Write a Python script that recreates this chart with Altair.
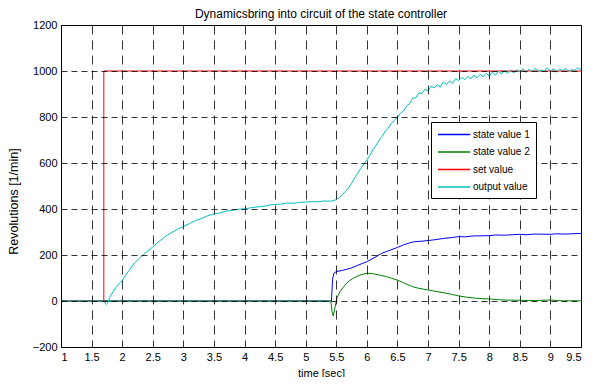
import altair as alt
import pandas as pd

# ---- data ----
set_t = [1.0, 1.7, 1.7, 9.5]
set_v = [0, 0, 1000, 1000]

out_t = [1.0, 1.70, 1.72, 1.74, 1.76, 1.80, 1.85, 1.90, 1.95, 2.00, 2.10, 2.20, 2.30, 2.40,
         2.50, 2.60, 2.70, 2.80, 2.90, 3.00, 3.10, 3.20, 3.30, 3.40, 3.50, 3.60, 3.70, 3.80,
         3.90, 4.00, 4.10, 4.20, 4.30, 4.40, 4.50, 4.60, 4.70, 4.80, 4.90, 5.00, 5.10, 5.20,
         5.30, 5.40, 5.45, 5.50, 5.55, 5.60, 5.65, 5.70, 5.75, 5.80, 5.85, 5.90, 5.95, 6.00,
         6.05, 6.10, 6.15, 6.20, 6.25, 6.30, 6.35, 6.40, 6.45, 6.50, 6.55, 6.60, 6.65, 6.70,
         6.75, 6.80, 6.85, 6.90, 6.95, 7.00, 7.05, 7.10, 7.15, 7.20, 7.25, 7.30, 7.35, 7.40,
         7.45, 7.50, 7.55, 7.60, 7.65, 7.70, 7.75, 7.80, 7.85, 7.90, 7.95, 8.00, 8.05, 8.10,
         8.15, 8.20, 8.25, 8.30, 8.35, 8.40, 8.45, 8.50, 8.55, 8.60, 8.65, 8.70, 8.75, 8.80,
         8.85, 8.90, 8.95, 9.00, 9.05, 9.10, 9.15, 9.20, 9.25, 9.30, 9.35, 9.40, 9.45, 9.50]
out_v = [0, 0, -8, -15, -10, 18, 40, 60, 76, 90, 128, 165, 190, 214,
         235, 258, 280, 296, 311, 324, 336, 350, 359, 371, 378, 383, 391, 394,
         399, 401, 405, 409, 411, 417, 420, 421, 426, 425, 429, 430, 432, 431,
         435, 434, 436, 441, 450, 463, 477, 491, 512, 535, 556, 575, 596, 614,
         634, 658, 676, 700, 716, 738, 752, 772, 785, 800, 816, 826, 848, 858,
         882, 884, 905, 902, 921, 914, 934, 926, 940, 930, 952, 941, 956, 946,
         966, 958, 972, 962, 976, 966, 982, 970, 986, 975, 990, 978, 995, 982,
         998, 987, 1002, 990, 1005, 991, 1006, 996, 1010, 994, 1008, 997, 1012, 996,
         1004, 1000, 1014, 999, 1010, 995, 1008, 1001, 1012, 998, 1006, 1003, 1015, 1004]

s1_t = [1.0, 5.42, 5.44, 5.46, 5.5, 5.6, 5.73, 5.85, 6.0, 6.1, 6.24, 6.35, 6.5, 6.6, 6.7,
        6.78, 6.9, 7.0, 7.1, 7.25, 7.4, 7.5, 7.6, 7.75, 8.0, 8.1, 8.25, 8.5, 8.6, 8.75,
        9.0, 9.1, 9.25, 9.5]
s1_v = [0, 0, 95, 120, 128, 133, 142, 155, 171, 185, 207, 218, 233, 244, 253,
        258, 260, 263, 266, 272, 276, 280, 279, 283, 284, 287, 286, 290, 288, 291,
        290, 292, 291, 294]

s2_t = [1.0, 5.41, 5.43, 5.45, 5.47, 5.51, 5.56, 5.62, 5.67, 5.72, 5.78, 5.84, 5.89, 5.95,
        6.0, 6.07, 6.13, 6.22, 6.32, 6.4, 6.5, 6.6, 6.75, 6.85, 7.0, 7.1, 7.25, 7.4, 7.5,
        7.65, 7.79, 7.9, 8.0, 8.15, 8.27, 8.5, 8.7, 9.0, 9.2, 9.5]
s2_v = [0, 0, -46, -65, -39, 12, 41, 62, 77, 89, 99, 107, 113, 118,
        120, 120, 117, 112, 106, 99, 91, 79, 62, 55, 48, 43, 36, 28, 22,
        16, 12, 10, 9, 6, 4, 3, 2, 4, 1, 1]

series_names = ["state value 1", "state value 2", "set value", "output value"]
series_colors = ["#0000FF", "#008000", "#FF0000", "#00BFBF"]
x_ticks = [1, 1.5, 2, 2.5, 3, 3.5, 4, 4.5, 5, 5.5, 6, 6.5, 7, 7.5, 8, 8.5, 9, 9.5]
y_ticks = [-200, 0, 200, 400, 600, 800, 1000, 1200]

rows = []
for name, ts, vs in [("state value 1", s1_t, s1_v), ("state value 2", s2_t, s2_v),
                     ("set value", set_t, set_v), ("output value", out_t, out_v)]:
    for i, (t, v) in enumerate(zip(ts, vs)):
        rows.append({"series": name, "t": t, "v": v, "i": i})
df = pd.DataFrame(rows)

FONT = "Liberation Sans"

base = alt.Chart(df).mark_line(strokeWidth=1, clip=True).encode(
    x=alt.X("t:Q", scale=alt.Scale(domain=[1, 9.5], nice=False, zero=False),
            axis=alt.Axis(values=x_ticks, format="~g", title="time [sec]",
                          gridDash=[9, 6], zindex=1)),
    y=alt.Y("v:Q", scale=alt.Scale(domain=[-200, 1200], nice=False),
            axis=alt.Axis(values=y_ticks, format="d", title="Revolutions [1/min]",
                          gridDash=[6, 4], zindex=1, titleY=176, titleFontSize=12.5)),
    color=alt.Color("series:N",
                    scale=alt.Scale(domain=series_names, range=series_colors),
                    legend=alt.Legend(title=None, orient="none", legendX=370, legendY=97,
                                      symbolType="M-1,0L4.86,0", symbolSize=121,
                                      symbolStrokeWidth=1.5, labelFontSize=10,
                                      labelFont=FONT, labelColor="black",
                                      strokeColor="black",
                                      fillColor="white", padding=6, rowPadding=5.5,
                                      labelOffset=23, zindex=2)),
    order=alt.Order("i:Q"),
)

layers = [base.transform_filter(alt.datum.series == s) for s in series_names]

chart = alt.layer(*layers).properties(
    width=520, height=322,
    title=alt.TitleParams("Dynamicsbring into circuit of the state controller",
                          font=FONT, fontSize=12, fontWeight="normal", offset=-2,
                          frame="group", anchor="middle", color="black"),
    autosize=alt.AutoSizeParams(type="none"),
    padding={"left": 53, "top": 17, "right": 11, "bottom": 30},
).configure_view(
    stroke="black", strokeWidth=1
).configure_axis(
    labelFont=FONT, labelFontSize=11, labelColor="black",
    titleFont=FONT, titleFontSize=11, titleFontWeight="normal", titleColor="black",
    grid=True, gridColor="black", gridWidth=0.8, gridOpacity=1,
    domain=False, ticks=False, labelPadding=4,
).configure_axisY(titlePadding=12).configure_axisX(titlePadding=5)

chart.save("out.html", embed_options={"renderer": "svg", "actions": False})
